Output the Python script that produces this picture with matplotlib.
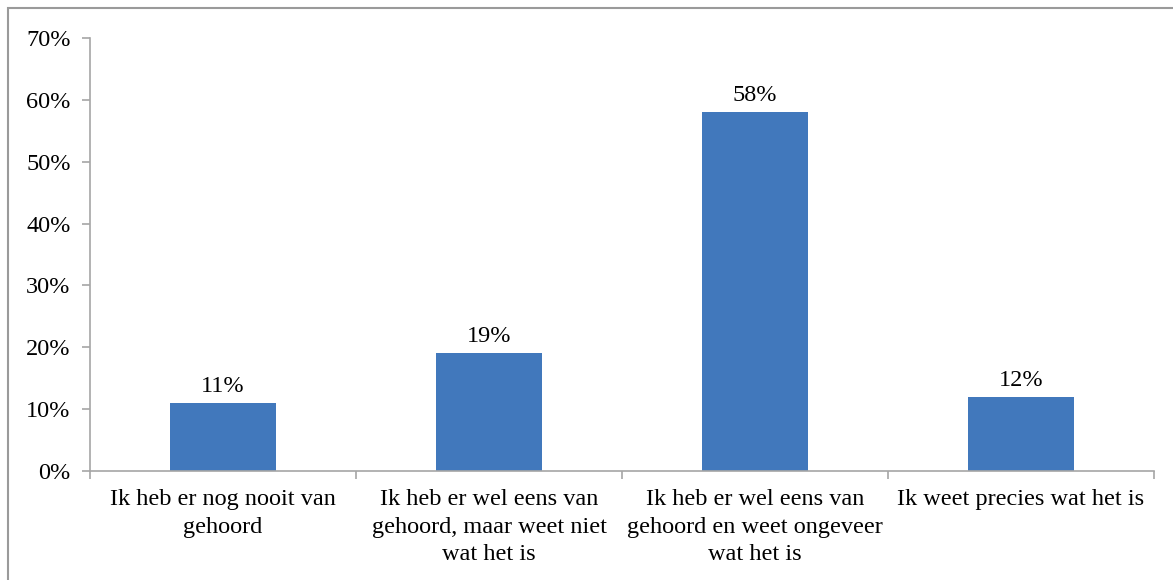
import matplotlib
matplotlib.use("Agg")
import matplotlib.pyplot as plt
from matplotlib.patches import Rectangle
from matplotlib.ticker import FuncFormatter, FixedLocator, NullFormatter

categories = [
    "Ik heb er nog nooit van\ngehoord",
    "Ik heb er wel eens van\ngehoord, maar weet niet\nwat het is",
    "Ik heb er wel eens van\ngehoord en weet ongeveer\nwat het is",
    "Ik weet precies wat het is",
]
values = [11, 19, 58, 12]
yticks = [0, 10, 20, 30, 40, 50, 60, 70]

plt.rcParams['font.family'] = ['Liberation Serif', 'DejaVu Serif']
fs = 17.5
bar_color = '#4178BC'
spine_color = '#A6A6A6'

fig = plt.figure(figsize=(11.73, 5.80), dpi=100)
fig.patches.append(Rectangle((8/1173, -0.1), 1.2, (1 - 8/580) + 0.1,
                             transform=fig.transFigure, fill=False,
                             edgecolor='#9A9A9A', linewidth=1.5))
ax = fig.add_axes([90/1173, 1 - 471/580, (1154 - 90)/1173, (471 - 38)/580])

x = list(range(len(categories)))
ax.bar(x, values, width=0.4, color=bar_color, zorder=2)
for xi, v in zip(x, values):
    ax.text(xi, v + 1.0, f"{v}%", ha='center', va='bottom', fontsize=fs)

ax.set_xlim(-0.5, len(categories) - 0.5)
ax.set_ylim(0, 70)
ax.set_yticks(yticks)
ax.yaxis.set_major_formatter(FuncFormatter(lambda v, p: f"{int(v)}%"))
ax.set_xticks(x)
ax.set_xticklabels(categories, fontsize=fs, linespacing=1.42)
ax.tick_params(axis='x', length=0, pad=13)
ax.xaxis.set_minor_locator(FixedLocator([i - 0.5 for i in range(len(categories) + 1)]))
ax.xaxis.set_minor_formatter(NullFormatter())
ax.tick_params(axis='x', which='minor', length=6, color=spine_color, width=1.2)
ax.tick_params(axis='y', length=6, color=spine_color, width=1.2, labelsize=fs, pad=8)

for s in ['top', 'right']:
    ax.spines[s].set_visible(False)
for s in ['left', 'bottom']:
    ax.spines[s].set_color(spine_color)
    ax.spines[s].set_linewidth(1.2)

fig.savefig("out.png", dpi=100)
